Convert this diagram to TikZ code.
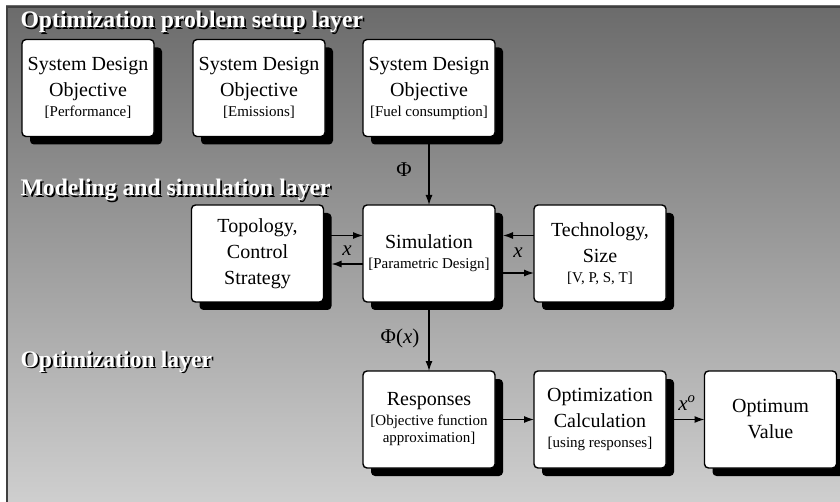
\documentclass[tikz,border=0pt]{standalone}
\usepackage{fontspec}
\setmainfont{Liberation Serif}
\usetikzlibrary{shadows,arrows.meta}
\newcommand\smalltext[1]{{\fontsize{15}{17}\selectfont #1}}
% white bold heading with a black drop shadow, set as a single text
\newcommand\layertitle[3]{%
  \node[anchor=base west,font=\fontsize{23.7}{28}\bfseries\selectfont] at (#1,#2)
    {\makebox[0pt][l]{\hspace{1.8pt}\raisebox{-1.8pt}{\color{black}#3}}\color{white}#3};}
\tikzset{
  block/.style={draw=black, line width=1.4pt, fill=white, rounded corners=4pt,
    minimum width=132pt, minimum height=97pt, inner sep=2pt, outer sep=0pt,
    align=center, font=\fontsize{20}{26}\selectfont,
    drop shadow={shadow xshift=8pt, shadow yshift=-8pt, fill=black, opacity=1}},
  flow/.style={line width=1.3pt, -{Latex[length=10pt,width=7pt]}},
  lbl/.style={font=\fontsize{21}{25}\selectfont, inner sep=0pt}
}
\begin{document}
\begin{tikzpicture}[x=1pt,y=-1pt]
  \useasboundingbox (0,0) rectangle (840,502);
  \fill[white] (0,0) rectangle (840,502);
  % graded backdrop with a dark frame along top and left
  \shade[top color=black!58, bottom color=black!19] (6,6) rectangle (840,502);
  \draw[line width=2pt, black!75] (7,502) -- (7,7) -- (840,7);

  % layer titles
  \layertitle{17}{28}{Optimization problem setup layer}
  \layertitle{17}{196}{Modeling and simulation layer}
  \layertitle{17}{367}{Optimization layer}

  % setup layer
  \node[block] (perf) at (88,88) {System Design\\Objective\\[-6pt]\smalltext{[Performance]}};
  \node[block] (emis) at (259,88) {System Design\\Objective\\[-6pt]\smalltext{[Emissions]}};
  \node[block] (fuel) at (429,88) {System Design\\Objective\\[-6pt]\smalltext{[Fuel consumption]}};

  % modeling layer
  \node[block] (topo) at (257.5,253.5) {Topology,\\Control\\Strategy};
  \node[block] (sim) at (429,253.5) {Simulation\\[-6pt]\smalltext{[Parametric Design]}};
  \node[block] (tech) at (600,253.5) {Technology,\\Size\\[-6pt]\smalltext{[V, P, S, T]}};

  % optimization layer
  \node[block] (resp) at (429,419.5) {Responses\\[-6pt]\smalltext{[Objective function}\\[-9pt]\smalltext{approximation]}};
  \node[block] (calc) at (600,419.5) {Optimization\\Calculation\\[-6pt]\smalltext{[using responses]}};
  \node[block] (opt) at (770.5,419.5) {Optimum\\Value};

  % connectors
  \draw[flow] (fuel.south) -- (sim.north);
  \node[lbl] at (404,170) {Φ};
  \draw[flow] ([yshift=18pt]topo.east) -- ([yshift=18pt]sim.west);
  \draw[flow] ([yshift=-10.5pt]sim.west) -- ([xshift=8pt,yshift=-10.5pt]topo.east);
  \node[lbl] at (347,251) {\textit{x}};
  \draw[flow] ([yshift=18pt]tech.west) -- ([xshift=8pt,yshift=18pt]sim.east);
  \draw[flow] ([xshift=8pt,yshift=-19.5pt]sim.east) -- ([yshift=-19.5pt]tech.west);
  \node[lbl] at (518,253) {\textit{x}};
  \draw[flow] (sim.south) -- (resp.north);
  \node[lbl] at (400,338) {Φ(\textit{x})};
  \draw[flow] ([xshift=8pt]resp.east) -- (calc.west);
  \draw[flow] ([xshift=8pt]calc.east) -- (opt.west);
  \node[lbl] at (687,403) {\textit{x}\textsuperscript{\textit{o}}};
\end{tikzpicture}
\end{document}
